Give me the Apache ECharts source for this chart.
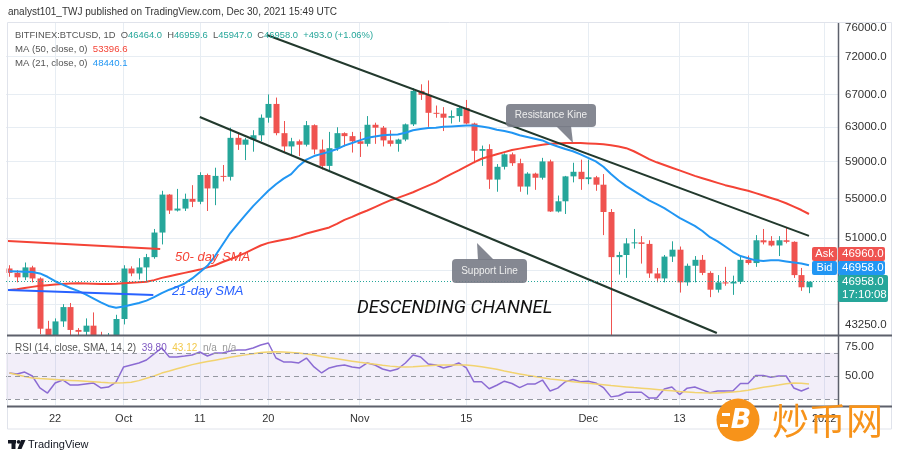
<!DOCTYPE html>
<html><head><meta charset="utf-8">
<script src="https://cdn.jsdelivr.net/npm/echarts@6.0.0/dist/echarts.min.js"></script>
<style>html,body{margin:0;padding:0;background:#fff}#c{width:900px;height:459px}</style>
</head><body><div id="c"></div>
<script>
// ---------- DATA ----------
const dates = ['Sep 16','Sep 17','Sep 18','Sep 19','Sep 20','Sep 21','Sep 22','Sep 23','Sep 24','Sep 25','Sep 26','Sep 27','Sep 28','Sep 29','Sep 30',
'Oct 1','Oct 2','Oct 3','Oct 4','Oct 5','Oct 6','Oct 7','Oct 8','Oct 9','Oct 10','Oct 11','Oct 12','Oct 13','Oct 14','Oct 15','Oct 16','Oct 17','Oct 18','Oct 19','Oct 20','Oct 21','Oct 22','Oct 23','Oct 24','Oct 25','Oct 26','Oct 27','Oct 28','Oct 29','Oct 30','Oct 31',
'Nov 1','Nov 2','Nov 3','Nov 4','Nov 5','Nov 6','Nov 7','Nov 8','Nov 9','Nov 10','Nov 11','Nov 12','Nov 13','Nov 14','Nov 15','Nov 16','Nov 17','Nov 18','Nov 19','Nov 20','Nov 21','Nov 22','Nov 23','Nov 24','Nov 25','Nov 26','Nov 27','Nov 28','Nov 29','Nov 30',
'Dec 1','Dec 2','Dec 3','Dec 4','Dec 5','Dec 6','Dec 7','Dec 8','Dec 9','Dec 10','Dec 11','Dec 12','Dec 13','Dec 14','Dec 15','Dec 16','Dec 17','Dec 18','Dec 19','Dec 20','Dec 21','Dec 22','Dec 23','Dec 24','Dec 25','Dec 26','Dec 27','Dec 28','Dec 29','Dec 30'];

// [open, close, low, high]
const candles = [
[48150,47750,47400,48450],[47750,47350,46900,48000],[47350,48250,47100,48700],[48250,47250,46900,48400],[47250,42950,42500,47350],
[42950,40700,39600,43600],[40700,43550,40600,43800],[43550,44750,43100,45000],[44750,42850,40900,45100],[42850,42700,41700,43000],
[42700,43200,40800,43800],[43200,42200,42100,44300],[42200,41050,40900,42700],[41050,41500,40800,42600],[41500,43750,41400,44100],
[43750,48150,43300,48450],[48150,47700,47450,48350],[47700,48250,47150,49100],[48250,49200,46950,49500],[49200,51550,49050,51900],
[51550,55400,50400,55800],[55400,53750,53400,55450],[53750,53950,53650,56000],[53950,54950,53700,55500],[54950,54650,54100,56400],
[54650,57500,54400,57800],[57500,56050,53700,57650],[56050,57400,54300,58300],[57400,57300,56800,58600],[57300,61700,56900,62900],
[61700,60900,60300,62300],[60900,61500,59150,61700],[61500,62000,60100,62600],[62000,64100,61300,64500],[64100,65800,63500,67000],
[65800,62250,62000,66600],[62250,60700,60000,63700],[60700,61300,59700,61700],[61300,60900,59600,61500],[60900,63200,60700,63700],
[63200,60350,59800,63300],[60350,58500,58100,61500],[58500,60500,57900,62400],[60500,62250,60200,62950],[62250,61900,60700,62350],
[61900,61300,60000,62400],[61300,61000,59500,62400],[61000,63250,60700,64300],[63250,62900,61000,63500],[62900,61400,60700,63100],
[61400,61000,60700,62600],[61000,61500,60100,61600],[61500,63300,61300,63400],[63300,67450,63100,67800],[67450,66950,66300,68300],
[66950,64700,63000,68800],[64700,64600,64100,65600],[64600,64100,62500,65400],[64100,64300,63400,65000],[64300,65300,63600,65550],
[65300,63400,63300,66300],[63400,60200,58800,63500],[60200,60400,58500,60800],[60400,57000,56000,60950],[57000,58400,55700,58700],
[58400,59800,58100,59900],[59800,58800,58500,60000],[58800,56250,55700,59300],[56250,57650,55400,57800],[57650,57200,55900,57750],
[57200,59000,57000,59400],[59000,53650,53600,59200],[53650,54700,53550,55300],[54700,57350,53400,57400],[57350,57850,56700,58850],
[57850,57050,55900,59200],[57050,57250,56500,59200],[57250,56450,55800,57400],[56450,53600,51300,57600],[53600,49200,42000,53900],
[49200,49400,47600,49700],[49400,50500,47300,51000],[50500,50600,50000,51900],[50600,50450,48600,51200],[50450,47700,47300,50800],
[47700,47250,46900,48200],[47250,49250,46900,49400],[49250,49900,48750,50700],[49900,46900,46000,50200],[46900,48400,46600,48600],
[48400,48950,46900,49300],[48950,47750,47550,49400],[47750,46250,45600,47900],[46250,46900,46000,47550],[46900,46800,46600,48300],
[46800,46950,45800,47500],[46950,48950,46750,49300],[48950,48650,48500,49350],[48650,50800,48300,51300],[50800,50600,50400,51900],
[50750,50300,50200,51200],[50300,50800,49300,51200],[50800,50650,50500,52050],[50650,47550,47300,50700],[47550,46464,46150,48200],
[46464,46958,45947,46959.6]];

const ma50 = [46230,46300,46400,46500,46600,46650,46700,46750,46800,46820,
46800,46780,46760,46760,46780,46820,46860,46900,46950,47100,
47300,47450,47600,47750,47900,48050,48250,48450,48750,49000,
49300,49600,49950,50300,50550,50700,50850,51000,51200,51450,
51650,51850,52050,52400,52800,53100,53450,53750,54100,54450,
54800,55050,55350,55650,56000,56350,56700,57150,57600,58000,
58450,58900,59300,59550,59800,60050,60300,60450,60600,60750,
60900,61000,61050,61100,61100,61100,61050,61000,60950,60850,
60700,60500,60150,59700,59250,58900,58600,58300,58000,57700,
57400,57150,56900,56650,56400,56200,56000,55800,55550,55300,
55050,54800,54500,54150,53800,53396.6];

const ma21 = [47900,47880,47860,47830,47700,47400,47000,46700,46400,46150,
45850,45500,45150,44850,44700,44800,44950,45100,45300,45600,
45950,46250,46500,46800,47250,47800,48400,49300,50400,51500,
52400,53300,54200,55000,55800,56500,57100,57600,58500,59200,
59600,59850,60100,60400,60800,61100,61400,61700,61850,62000,
62050,62100,62300,62600,62750,62850,62900,63000,63050,63100,
63150,63150,63050,62900,62650,62500,62300,62000,61800,61600,
61400,61000,60700,60400,60150,59800,59400,59000,58400,57600,
56900,56300,55800,55300,54800,54400,54000,53500,53000,52600,
52200,51700,51100,50700,50200,49700,49300,49100,48900,48850,
48900,48900,48800,48700,48600,48440.1];

const rsi = [52.6,51.7,53.4,50,39.7,35.3,44,46.6,42.2,42.2,
43.1,44,39.7,40.5,44.8,57.8,59.5,61.2,63.8,69,
74.1,66.4,66.4,67.2,68.1,70.7,67.2,69.8,69.8,71.6,
72.4,72.4,74.1,76.7,78.4,65.5,62.1,62.1,61.2,65.5,
57.8,52.6,56.9,58.6,59.5,57.8,56.9,61.2,59.5,56,
54.3,56,61.2,68.1,66.4,60.3,59.5,56.9,58.6,61.2,
57,45,45,39,42,45.5,43.5,40,43,43,
46.5,37,39.5,45,47,45,45.5,44,40,32,
33,36,36,36,31,31,38.8,40.5,34,39.5,
40.5,38,35.5,37,37,37,43.5,43.5,50.5,50.5,
49,50,50,39.7,37.1,39.8];

const rsiSma = [52.6,51,49.5,48.3,47.8,47.4,47,46.6,46.2,45.8,
45.4,45,44.5,44.1,44,44.2,44.6,46,48,50,
52.5,54.3,56.2,58,59.8,61.2,62.4,63.6,64.8,66.1,
67.2,68.2,69.2,70.2,70.7,70.8,70.6,70.3,69.8,69,
68,66.8,65.7,64.8,63.8,62.8,61.8,61,60.2,59.3,
58.5,57.9,57.7,58,58.4,58.8,59.2,59.4,59.5,59.5,
59.4,58.8,57.9,56.9,55.8,54.3,53,51.8,50.6,49.5,
48.4,47.5,46.7,45.9,45.1,44.3,43.7,43.2,42.5,41.8,
41.2,40.6,40,39.5,39,38.4,37.8,37.2,36.6,36.2,
35.8,35.5,35.3,35.4,35.7,36.1,36.8,37.8,39,40.2,
41.2,42.2,43.3,43.9,43.8,43.12];

// drawn trend lines, [dayIndex, price]
const channelUpper = [[33.8, 75000], [105, 51220]];
const channelLower = [[25, 64190], [92.9, 42600]];
const sma50Pointer = [[-0.2, 50730], [19.8, 49970]];
const sma21Pointer = [[-0.2, 46230], [18.9, 45790]];

const tickIdx = [6, 15, 25, 34, 46, 60, 76, 88, 97, 107];
const tickLabels = ['22', 'Oct', '11', '20', 'Nov', '15', 'Dec', '13', '22', '2022'];
const priceLabels = [43250, 51000, 55000, 59000, 63000, 67000, 72000, 76000];
const priceGrid = [45000, 48000, 51000, 55000, 59000, 63000, 67000, 72000];
const rsiLabels = [50, 75];
const rsiLevels = [70, 50, 30];
const askPrice = 46960.0, bidPrice = 46958.0, countdown = '17:10:08';
const changeText = '+493.0 (+1.06%)';

// ---------- CHART ----------
const FONT = '"Liberation Sans", Arial, sans-serif';
const UP = '#26a69a', DN = '#ef5350', GRID = '#e7edf3';
const last = candles[candles.length - 1];
const f1 = v => Number(v).toFixed(1);

const chart = echarts.init(document.getElementById('c'));
const T = (x, y, text, fill, font, align, extra, z) => ({
  type: 'text', x, y, z: z || 100, silent: true,
  style: Object.assign({ text, fill, font, align: align || 'left', verticalAlign: 'middle' }, extra || {})
});
const R = (x, y, w, h, fill, r, z) => ({ type: 'rect', z: z || 99, silent: true, shape: { x, y, width: w, height: h, r: r || 0 }, style: { fill } });
const rich = (fs) => ({
  l: { fill: '#555', fontSize: fs, fontFamily: FONT },
  v: { fill: UP, fontSize: fs, fontFamily: FONT },
  r: { fill: '#f44336', fontSize: fs, fontFamily: FONT },
  b: { fill: '#2196f3', fontSize: fs, fontFamily: FONT },
  p: { fill: '#7e57c2', fontSize: fs, fontFamily: FONT },
  y: { fill: '#f2c94c', fontSize: fs, fontFamily: FONT },
  g: { fill: '#999', fontSize: fs, fontFamily: FONT }
});
const fmtX = v => { const k = tickIdx.indexOf(Math.round(v)); return k >= 0 ? tickLabels[k] : ''; };
const XMIN = -0.45, XMAX = 108.81;

// candle renderer (clipped to the price pane)
function renderCandle(params, api) {
  const x = api.value(0);
  const o = api.coord([x, api.value(1)]);
  const c = api.coord([x, api.value(2)]);
  const l = api.coord([x, api.value(3)]);
  const h = api.coord([x, api.value(4)]);
  const cs = params.coordSys;
  const color = api.value(2) >= api.value(1) ? UP : DN;
  const cx = Math.round(o[0]);
  const top = Math.min(o[1], c[1]);
  const body = echarts.graphic.clipRectByRect(
    { x: cx - 2.5, y: top, width: 6, height: Math.max(1, Math.abs(o[1] - c[1])) }, cs);
  const wick = echarts.graphic.clipPointsByRect([[cx + 0.5, l[1]], [cx + 0.5, h[1]]], cs);
  const children = [{ type: 'line', shape: { x1: wick[0][0], y1: wick[0][1], x2: wick[1][0], y2: wick[1][1] }, style: { stroke: color, lineWidth: 1 } }];
  if (body) children.push({ type: 'rect', shape: body, style: { fill: color } });
  return { type: 'group', children };
}

const option = {
  animation: false,
  backgroundColor: '#fff',
  grid: [
    { left: 6, top: 23, width: 832, height: 312 },
    { left: 6, top: 337, width: 832, height: 68 }
  ],
  xAxis: [
    { type: 'value', gridIndex: 0, min: XMIN, max: XMAX, axisLine: { show: false },
      axisTick: { show: false, customValues: tickIdx }, axisLabel: { show: false },
      splitLine: { show: true, lineStyle: { color: GRID, width: 1 } } },
    { type: 'value', gridIndex: 1, min: XMIN, max: XMAX, axisLine: { show: false },
      axisTick: { show: false, customValues: tickIdx },
      axisLabel: { show: true, customValues: tickIdx, formatter: fmtX, color: '#333', fontSize: 11, fontFamily: FONT, margin: 8 },
      splitLine: { show: true, lineStyle: { color: GRID, width: 1 } } }
  ],
  yAxis: [
    { type: 'log', logBase: 10, gridIndex: 0, position: 'right', min: 42441, max: 76724,
      axisLine: { show: false }, axisTick: { show: false, customValues: priceGrid },
      axisLabel: { customValues: priceLabels, formatter: f1, color: '#333', fontSize: 11.5, fontFamily: FONT, margin: 7 },
      splitLine: { show: true, lineStyle: { color: GRID, width: 1 } } },
    { type: 'value', gridIndex: 1, position: 'right', min: 25, max: 83.6,
      axisLine: { show: false }, axisTick: { show: false, customValues: rsiLabels },
      axisLabel: { customValues: rsiLabels, formatter: v => Number(v).toFixed(2), color: '#333', fontSize: 11.5, fontFamily: FONT, margin: 7 },
      splitLine: { show: false } }
  ],
  series: [
    { type: 'custom', xAxisIndex: 0, yAxisIndex: 0, z: 2, clip: true,
      data: candles.map((c, i) => [i, c[0], c[1], c[2], c[3]]),
      encode: { x: 0, y: [1, 2, 3, 4] }, renderItem: renderCandle },
    { type: 'line', xAxisIndex: 0, yAxisIndex: 0, z: 3, symbol: 'none', clip: true,
      data: ma50.map((v, i) => [i, v]), lineStyle: { color: '#f44336', width: 2 },
      markLine: { silent: true, symbol: ['none', 'none'], label: { show: false },
        lineStyle: { type: [1, 2], color: UP, width: 1 }, data: [{ yAxis: last[1] }] } },
    { type: 'line', xAxisIndex: 0, yAxisIndex: 0, z: 3, symbol: 'none', clip: true,
      data: ma21.map((v, i) => [i, v]), lineStyle: { color: '#2196f3', width: 2 } },
    { type: 'line', xAxisIndex: 0, yAxisIndex: 0, z: 4, symbol: 'none', clip: true,
      data: channelUpper, lineStyle: { color: '#22392d', width: 2 } },
    { type: 'line', xAxisIndex: 0, yAxisIndex: 0, z: 4, symbol: 'none', clip: true,
      data: channelLower, lineStyle: { color: '#22392d', width: 2 } },
    { type: 'line', xAxisIndex: 0, yAxisIndex: 0, z: 4, symbol: 'none', clip: true,
      data: sma50Pointer, lineStyle: { color: '#f44336', width: 2 } },
    { type: 'line', xAxisIndex: 0, yAxisIndex: 0, z: 4, symbol: 'none', clip: true,
      data: sma21Pointer, lineStyle: { color: '#2962ff', width: 2 } },
    { type: 'line', xAxisIndex: 1, yAxisIndex: 1, z: 3, symbol: 'none',
      data: rsi.map((v, i) => [i, v]), lineStyle: { color: '#8b6bd3', width: 1.5 },
      markArea: { silent: true, itemStyle: { color: 'rgba(126,87,194,0.1)' }, data: [[{ yAxis: 30 }, { yAxis: 70 }]] },
      markLine: { silent: true, symbol: ['none', 'none'], label: { show: false },
        lineStyle: { type: [5, 4], color: '#9598a1', width: 1 }, data: rsiLevels.map(v => ({ yAxis: v })) } },
    { type: 'line', xAxisIndex: 1, yAxisIndex: 1, z: 3, symbol: 'none',
      data: rsiSma.map((v, i) => [i, v]), lineStyle: { color: '#f2d36f', width: 1.5 } }
  ],
  graphic: [
    { type: 'rect', z: 50, silent: true, shape: { x: 7.5, y: 22.5, width: 884, height: 406.5 }, style: { fill: 'none', stroke: '#e0e3eb', lineWidth: 1 } },
    { type: 'line', z: 50, silent: true, shape: { x1: 7, y1: 335.5, x2: 892, y2: 335.5 }, style: { stroke: '#5d606b', lineWidth: 2 } },
    { type: 'line', z: 50, silent: true, shape: { x1: 7, y1: 406.5, x2: 892, y2: 406.5 }, style: { stroke: '#5d606b', lineWidth: 2 } },
    { type: 'line', z: 50, silent: true, shape: { x1: 838.5, y1: 23, x2: 838.5, y2: 407 }, style: { stroke: '#5d606b', lineWidth: 1.5 } },

    T(8, 12, 'analyst101_TWJ published on TradingView.com, Dec 30, 2021 15:49 UTC', '#333', '10px ' + FONT),
    T(15, 35, '', '#555', '', 'left', {
      text: '{l|BITFINEX:BTCUSD, 1D  O}{v|' + f1(last[0]) + '}{l|  H}{v|' + f1(last[3]) + '}{l|  L}{v|' + f1(last[2]) + '}{l|  C}{v|' + f1(last[1]) + '  ' + changeText + '}',
      rich: rich(9.4) }),
    T(15, 49, '', '#555', '', 'left', { text: '{l|MA (50, close, 0)  }{r|' + f1(ma50[ma50.length - 1]) + '}', rich: rich(9.6) }),
    T(15, 63, '', '#555', '', 'left', { text: '{l|MA (21, close, 0)  }{b|' + f1(ma21[ma21.length - 1]) + '}', rich: rich(9.6) }),
    T(15, 348, '', '#555', '', 'left', { text: '{l|RSI (14, close, SMA, 14, 2)  }{p|' + rsi[rsi.length - 1].toFixed(2) + '}{l|  }{y|' + rsiSma[rsiSma.length - 1].toFixed(2) + '}{g|  n/a  n/a}', rich: rich(10) }),

    T(175, 257, '50- day SMA', '#f44336', 'italic 13px ' + FONT),
    T(172, 291, '21-day SMA', '#2962ff', 'italic 13px ' + FONT),
    T(357, 308, 'DESCENDING CHANNEL', '#111', 'italic 18.5px Roboto'),

    R(506, 104, 90, 23, 'rgba(120,123,134,0.9)', 4),
    { type: 'polygon', z: 99, silent: true, shape: { points: [[556, 126], [571, 126], [573, 143]] }, style: { fill: 'rgba(120,123,134,0.9)' } },
    T(551, 115.5, 'Resistance Kine', '#eee', '10px ' + FONT, 'center'),
    R(452, 259, 75, 24, 'rgba(120,123,134,0.9)', 4),
    { type: 'polygon', z: 99, silent: true, shape: { points: [[478, 260], [494, 260], [477, 243]] }, style: { fill: 'rgba(120,123,134,0.9)' } },
    T(489.5, 271, 'Support Line', '#eee', '10px ' + FONT, 'center'),

    R(812, 247, 25, 14, DN, 2),
    T(824.5, 254, 'Ask', '#fff', '11px ' + FONT, 'center'),
    R(838, 247, 47, 14, DN, 2),
    T(842, 254, f1(askPrice), '#fff', '11.5px ' + FONT),
    R(812, 261, 25, 14, '#2196f3', 2),
    T(824.5, 268, 'Bid', '#fff', '11px ' + FONT, 'center'),
    R(838, 261, 47, 14, '#2196f3', 2),
    T(842, 268, f1(bidPrice), '#fff', '11.5px ' + FONT),
    R(838, 275, 50, 27, UP, 2),
    T(842, 282, f1(last[1]), '#fff', '11.5px ' + FONT),
    T(842, 295, countdown, '#fff', '11.5px ' + FONT),

    // TradingView logo
    R(8, 440, 8, 3.5, '#131722', 0, 100),
    R(11.5, 440, 4, 9, '#131722', 0, 100),
    { type: 'circle', z: 100, silent: true, shape: { cx: 18.6, cy: 441.8, r: 1.9 }, style: { fill: '#131722' } },
    { type: 'polygon', z: 100, silent: true, shape: { points: [[21, 440], [25.5, 440], [21.5, 449], [17.5, 449]] }, style: { fill: '#131722' } },
    T(28, 445, 'TradingView', '#131722', '11px ' + FONT),

    // watermark
    { type: 'circle', z: 110, silent: true, shape: { cx: 738, cy: 420, r: 21.5 }, style: { fill: '#f7931a' } },
    R(722, 413, 8, 3, '#fff', 0, 111),
    R(720, 424, 8, 3, '#fff', 0, 111),
    T(741, 421, 'B', '#fff', 'italic bold 27px "DejaVu Sans"', 'center', null, 112),
    T(772, 421, '炒币网', '#f7931a', '37px "Noto Sans CJK SC"', 'left', null, 110)
  ]
};
chart.setOption(option);
</script>
</body></html>
